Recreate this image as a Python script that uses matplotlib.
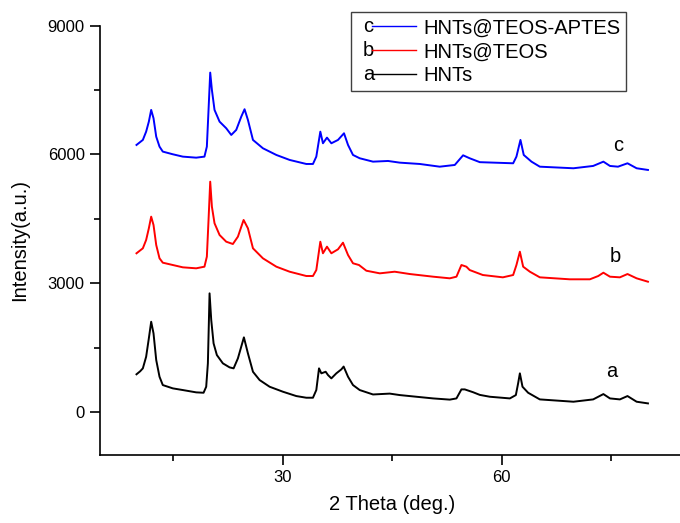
import matplotlib
matplotlib.use("Agg")
import matplotlib.pyplot as plt
from matplotlib.lines import Line2D
from matplotlib.text import Text

plt.rcParams['font.family'] = ['Liberation Sans', 'DejaVu Sans']

# 2 theta (deg.) and intensity
hnts_x = [10.0, 10.5, 10.87, 11.32, 11.69, 12.01, 12.33, 12.7, 13.15, 13.6, 14.97, 16.34,
          18.17, 19.18, 19.54, 19.77, 20.0, 20.23, 20.55, 21.0, 21.82, 22.74, 23.29, 23.88,
          24.7, 25.25, 25.94, 26.85, 28.22, 30.04, 31.87, 33.24, 34.15, 34.61, 34.98, 35.3,
          35.89, 36.21, 36.67, 37.35, 38.04, 38.35, 38.95, 39.63, 40.55, 42.37, 44.66, 46.03,
          48.3, 50.6, 52.88, 53.79, 54.47, 54.93, 56.07, 56.99, 58.36, 61.1, 61.92, 62.23,
          62.47, 62.83, 63.6, 65.2, 69.8, 72.5, 73.9, 74.8, 76.16, 77.2, 78.45, 80.0]
hnts_y = [880, 950, 1018, 1289, 1717, 2104, 1833, 1212, 823, 629, 552, 513,
          459, 450, 590, 1135, 2765, 2144, 1600, 1328, 1135, 1041, 1018, 1251,
          1740, 1367, 939, 746, 590, 474, 373, 334, 334, 513, 1018, 902,
          939, 862, 785, 902, 995, 1060, 823, 629, 513, 410, 430, 396,
          357, 318, 290, 318, 528, 528, 462, 400, 357, 318, 396, 668,
          902, 590, 450, 295, 241, 295, 419, 318, 295, 373, 241, 202]

teos_x = [10.0, 10.87, 11.32, 11.69, 12.01, 12.33, 12.7, 13.15, 13.6, 14.97, 16.34, 18.17,
          19.3, 19.63, 19.86, 20.09, 20.32, 20.68, 21.37, 22.28, 23.19, 23.88, 24.66, 25.25,
          25.94, 27.3, 29.14, 30.96, 33.24, 34.15, 34.61, 35.16, 35.52, 36.07, 36.67, 37.58,
          38.26, 38.95, 39.63, 40.45, 41.46, 43.3, 45.34, 47.4, 50.6, 52.88, 53.79, 54.47,
          55.15, 55.6, 57.4, 60.14, 61.55, 62.0, 62.47, 62.92, 63.84, 65.2, 69.3, 72.05,
          73.2, 73.9, 74.8, 76.16, 77.2, 78.45, 80.0]
teos_y = [3698, 3814, 4008, 4280, 4551, 4357, 3891, 3581, 3479, 3425, 3371, 3348,
          3386, 3619, 4474, 5366, 4784, 4397, 4124, 3968, 3914, 4085, 4474, 4280,
          3814, 3581, 3386, 3269, 3169, 3169, 3308, 3968, 3698, 3852, 3698, 3791,
          3945, 3658, 3465, 3425, 3292, 3231, 3269, 3215, 3153, 3115, 3153, 3425,
          3386, 3308, 3192, 3138, 3192, 3425, 3735, 3386, 3269, 3138, 3092, 3092,
          3169, 3246, 3153, 3138, 3215, 3115, 3036]

aptes_x = [10.0, 10.87, 11.32, 11.69, 12.01, 12.33, 12.7, 13.15, 13.6, 14.97, 16.34, 18.17,
           19.3, 19.63, 19.86, 20.09, 20.32, 20.68, 21.37, 22.28, 22.97, 23.65, 24.34, 24.79,
           25.25, 25.94, 27.3, 29.14, 30.96, 33.24, 34.15, 34.61, 35.16, 35.52, 36.07, 36.67,
           37.58, 38.4, 38.95, 39.63, 40.55, 42.37, 44.43, 46.03, 48.77, 51.5, 53.56, 54.7,
           55.6, 56.99, 61.55, 62.0, 62.55, 63.0, 64.06, 65.2, 69.8, 72.5, 73.9, 74.8,
           75.9, 77.2, 78.45, 80.0]
aptes_y = [6221, 6338, 6531, 6764, 7037, 6843, 6414, 6182, 6066, 6004, 5949, 5925,
           5949, 6182, 7037, 7906, 7503, 7037, 6764, 6610, 6454, 6571, 6880, 7053,
           6804, 6338, 6144, 5988, 5872, 5778, 5778, 5949, 6531, 6260, 6392, 6260,
           6338, 6493, 6221, 5988, 5911, 5832, 5848, 5809, 5778, 5715, 5755, 5980,
           5911, 5820, 5794, 5949, 6338, 5988, 5832, 5715, 5678, 5732, 5832, 5732,
           5715, 5794, 5678, 5639]

series_names = ['HNTs@TEOS-APTES', 'HNTs@TEOS', 'HNTs']
series_letters = ['c', 'b', 'a']
series_colors = ['#0000ff', '#ff0000', '#000000']
letter_pos = [(75.9, 6200), (75.6, 3620), (75.0, 940)]


class LetterLineHandler:
    """legend handle drawn as 'c——' like the Origin export"""

    def __init__(self, letter):
        self.letter = letter

    def legend_artist(self, legend, orig_handle, fontsize, handlebox):
        x0 = -handlebox.xdescent
        y0 = -handlebox.ydescent
        w = handlebox.width
        h = handlebox.height
        txt = Text(x0 + 4.5, y0 + h / 2, self.letter, ha='left', va='center',
                   fontsize=fontsize, family=['Liberation Sans', 'DejaVu Sans'])
        line = Line2D([x0 + 11, x0 + w], [y0 + h / 2, y0 + h / 2],
                      color=orig_handle.get_color(), lw=1.0)
        handlebox.add_artist(txt)
        handlebox.add_artist(line)
        return line


def plot_patterns():
    fig = plt.figure(figsize=(6.8, 5.23), dpi=100)
    ax = fig.add_axes([0.147, 0.130, 0.8596, 0.821])

    data = [(aptes_x, aptes_y), (teos_x, teos_y), (hnts_x, hnts_y)]
    lines = []
    for (xs, ys), name, color in zip(data, series_names, series_colors):
        ln, = ax.plot(xs, ys, color=color, lw=1.4, label=name)
        lines.append(ln)

    for letter, (lx, ly) in zip(series_letters, letter_pos):
        ax.text(lx, ly, letter, ha='center', va='center', fontsize=14.5)

    ax.set_xlim(5, 85)
    ax.set_ylim(-1000, 9000)
    ax.set_xticks([30, 60])
    ax.set_xticks([15, 45, 75], minor=True)
    ax.set_yticks([0, 3000, 6000, 9000])
    ax.set_yticks([1500, 4500, 7500], minor=True)

    for side in ['top', 'right']:
        ax.spines[side].set_visible(False)
    for side in ['left', 'bottom']:
        ax.spines[side].set_linewidth(1.2)
    ax.tick_params(which='major', direction='out', length=7, width=1.2,
                   labelsize=12, pad=4)
    ax.tick_params(which='minor', direction='out', length=4, width=1.2)

    ax.set_xlabel('2 Theta (deg.)', fontsize=14.5, va='top')
    ax.xaxis.set_label_coords(0.4996, -0.093)
    ax.set_ylabel('Intensity(a.u.)', fontsize=14.5)
    ax.yaxis.set_label_coords(-0.122, 0.5)

    handler_map = {ln: LetterLineHandler(l) for ln, l in zip(lines, series_letters)}
    ax.legend(lines, series_names, handler_map=handler_map,
              loc='upper left', bbox_to_anchor=(0.429, 1.031), borderaxespad=0,
              fontsize=14.5, handlelength=2.95, handletextpad=0.35,
              labelspacing=0.25, borderpad=0.3, fancybox=False,
              edgecolor='#404040', framealpha=1)
    ax.get_legend().get_frame().set_linewidth(1.0)

    fig.savefig('out.png', dpi=100)


def main():
    plot_patterns()


if __name__ == "__main__":
    main()
